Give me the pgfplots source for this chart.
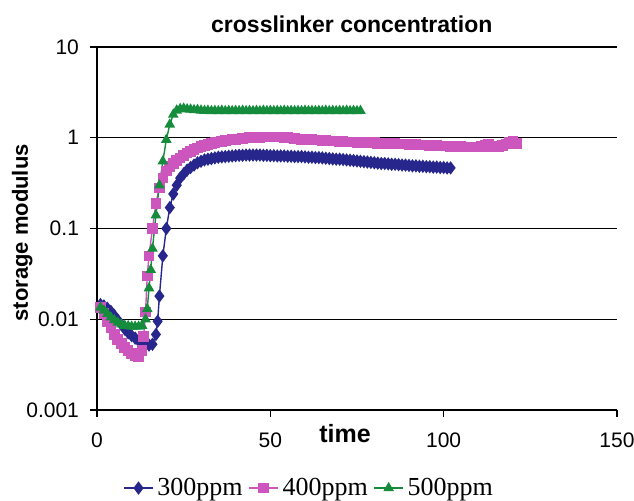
\documentclass[border=0pt]{standalone}
\usepackage{pgfplots}
\pgfplotsset{compat=1.18}
\usepackage{fontspec}
\setmainfont{Liberation Sans}
\newfontfamily\legfont{Liberation Serif}
\definecolor{cblue}{RGB}{38,38,140}
\definecolor{cpink}{RGB}{204,85,190}
\definecolor{cgreen}{RGB}{20,140,60}
\begin{document}
\begin{tikzpicture}
\useasboundingbox (-48.5pt,-45pt) rectangle (268.5pt,205pt);
\begin{axis}[
  scale only axis, width=260pt, height=181.5pt,
  xmin=0, xmax=150, ymode=log, ymin=0.001, ymax=10,
  axis x line*=bottom, axis y line*=left,
  axis line style={-, black, line width=0.6pt},
  xtick={0,50,100,150}, xticklabels={0,50,100,150},
  ytick={0.001,0.01,0.1,1,10}, yticklabels={0.001,0.01,0.1,1,10},
  minor ytick={}, yminorticks=false,
  tick align=outside, major tick length=3.5pt,
  tick style={black, line width=0.6pt},
  ymajorgrids, grid style={black, line width=0.6pt},
  ticklabel style={font=\fontsize{10.5}{12}\selectfont},
  yticklabel style={xshift=-2pt},
  xticklabel style={yshift=-4.5pt},
  title={\bfseries crosslinker concentration},
  title style={font=\fontsize{11.5}{13}\selectfont, at={(axis description cs:0.49,1)}, anchor=south, yshift=-2.5pt},
  xlabel={\bfseries time},
  xlabel style={font=\fontsize{12.5}{14}\selectfont, at={(axis description cs:0.477,-0.066)}, anchor=center},
  ylabel={\bfseries storage modulus},
  ylabel style={font=\fontsize{11}{13}\selectfont, at={(axis description cs:-0.144,0.488)}, anchor=center},
  legend columns=3,
  legend style={draw=none, fill=none, font=\legfont\fontsize{13}{15}\selectfont,
    at={(axis description cs:0.41,-0.215)}, anchor=center,
    /tikz/every even column/.append style={column sep=1pt}},
  legend image code/.code={\draw[mark repeat=2,mark phase=2] plot coordinates {(0cm,0cm) (0.25cm,0cm) (0.5cm,0cm)};},
]
\addplot[color=cblue, line width=0.7pt, mark=diamond*, mark size=2.8pt, mark options={fill=cblue, draw=cblue}] coordinates {
(1,0.0145)(2,0.014)(3,0.0132)(4,0.0122)(5,0.011)(6,0.0098)(7,0.0088)(8,0.0078)(9,0.0071)(10,0.0066)(11,0.0062)(12,0.0058)(13,0.0056)(14,0.0054)(15,0.0052)(16,0.0053)(17,0.0068)(17.5,0.0095)(18,0.018)(19,0.05)(20,0.1)(21,0.17)(22,0.24)(23,0.3)(24,0.36)(25,0.4)(26,0.44)(27,0.47)(28,0.5)(29,0.53)(30,0.55)(31,0.57)(32,0.58)(33,0.59)(34,0.6)(35,0.61)(36,0.615)(37,0.62)(38,0.625)(39,0.63)(40,0.635)(41,0.64)(42,0.64)(43,0.645)(44,0.645)(45,0.645)(46,0.645)(47,0.645)(48,0.64)(49,0.64)(50,0.635)(51,0.635)(52,0.63)(53,0.63)(54,0.63)(55,0.625)(56,0.625)(57,0.62)(58,0.62)(59,0.62)(60,0.615)(61,0.61)(62,0.61)(63,0.605)(64,0.605)(65,0.6)(66,0.595)(67,0.59)(68,0.585)(69,0.58)(70,0.58)(71,0.575)(72,0.57)(73,0.565)(74,0.56)(75,0.555)(76,0.55)(77,0.545)(78,0.54)(79,0.535)(80,0.53)(81,0.525)(82,0.52)(83,0.52)(84,0.515)(85,0.51)(86,0.51)(87,0.505)(88,0.5)(89,0.5)(90,0.495)(91,0.49)(92,0.49)(93,0.485)(94,0.485)(95,0.48)(96,0.48)(97,0.475)(98,0.475)(99,0.47)(100,0.47)(101,0.465)(102,0.465)
};
\addlegendentry{300ppm}
\addplot[color=cpink, line width=0.7pt, mark=square*, mark size=2.3pt, mark options={fill=cpink, draw=cpink}] coordinates {
(1,0.0135)(2,0.0115)(3,0.0095)(4,0.008)(5,0.0068)(6,0.006)(7,0.0054)(8,0.0049)(9,0.0045)(10,0.0042)(11,0.004)(12,0.0039)(13,0.0045)(13.5,0.0065)(14,0.012)(14.5,0.03)(15,0.05)(16,0.1)(17,0.19)(18,0.28)(19,0.36)(20,0.43)(21,0.48)(22,0.52)(23,0.56)(24,0.6)(25,0.64)(26,0.68)(27,0.71)(28,0.74)(29,0.77)(30,0.8)(31,0.82)(32,0.84)(33,0.86)(34,0.88)(35,0.9)(36,0.91)(37,0.93)(38,0.94)(39,0.95)(40,0.96)(41,0.97)(42,0.98)(43,0.99)(44,1.0)(45,1.0)(46,1.01)(47,1.01)(48,1.02)(49,1.02)(50,1.02)(51,1.02)(52,1.02)(53,1.02)(54,1.01)(55,1.0)(56,0.99)(57,0.98)(58,0.97)(59,0.96)(60,0.96)(61,0.95)(62,0.95)(63,0.94)(64,0.94)(65,0.93)(66,0.93)(67,0.92)(68,0.92)(69,0.92)(70,0.91)(71,0.91)(72,0.9)(73,0.9)(74,0.9)(75,0.89)(76,0.89)(77,0.89)(78,0.88)(79,0.88)(80,0.88)(81,0.87)(82,0.87)(83,0.87)(84,0.86)(85,0.86)(86,0.86)(87,0.85)(88,0.85)(89,0.85)(90,0.84)(91,0.84)(92,0.84)(93,0.83)(94,0.83)(95,0.83)(96,0.82)(97,0.82)(98,0.82)(99,0.81)(100,0.81)(101,0.81)(102,0.8)(103,0.8)(104,0.8)(105,0.8)(106,0.79)(107,0.79)(108,0.79)(109,0.79)(110,0.79)(111,0.8)(112,0.82)(113,0.84)(114,0.8)(115,0.79)(116,0.8)(117,0.82)(118,0.85)(119,0.88)(120,0.92)(121,0.87)
};
\addlegendentry{400ppm}
\addplot[color=cgreen, line width=0.7pt, mark=triangle*, mark size=2.4pt, mark options={fill=cgreen, draw=cgreen}] coordinates {
(1,0.0135)(2,0.0125)(3,0.0115)(4,0.0105)(5,0.0098)(6,0.0092)(7,0.0088)(8,0.0085)(9,0.0084)(10,0.0083)(11,0.0083)(12,0.0083)(13,0.0085)(14,0.01)(14.5,0.013)(15,0.022)(15.5,0.035)(16,0.06)(17,0.14)(18,0.3)(19,0.55)(20,0.95)(21,1.4)(22,1.8)(23,2.0)(24,2.08)(25,2.1)(26,2.06)(27,2.05)(28,2.02)(29,2.03)(30,2.0)(31,1.98)(32,1.99)(33,1.97)(34,1.98)(35,1.97)(36,1.99)(37,1.97)(38,1.98)(39,1.97)(40,1.98)(41,1.97)(42,1.99)(43,1.97)(44,1.98)(45,1.97)(46,1.98)(47,1.97)(48,1.99)(49,1.97)(50,1.98)(51,1.97)(52,1.98)(53,1.97)(54,1.99)(55,1.97)(56,1.98)(57,1.97)(58,1.98)(59,1.97)(60,1.99)(61,1.97)(62,1.98)(63,1.97)(64,1.98)(65,1.97)(66,1.99)(67,1.97)(68,1.98)(69,1.97)(70,1.98)(71,1.97)(72,1.99)(73,1.97)(74,1.98)(75,1.97)(76,1.98)
};
\addlegendentry{500ppm}
\end{axis}
\end{tikzpicture}
\end{document}
